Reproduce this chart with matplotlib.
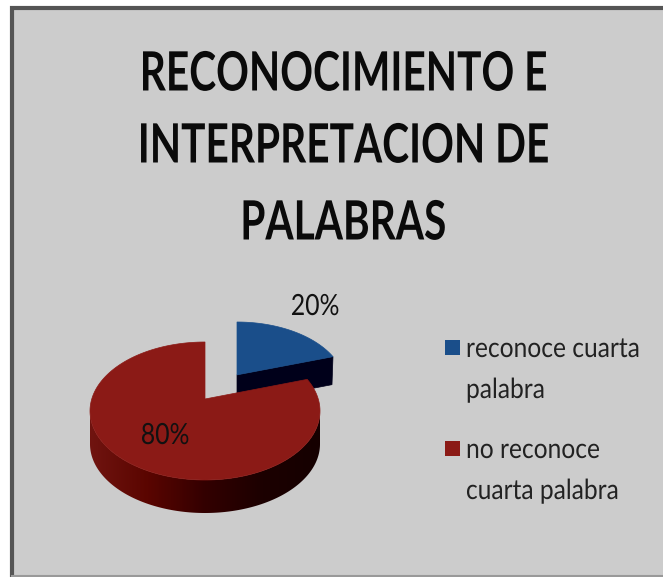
import numpy as np
import matplotlib
matplotlib.use('Agg')
import matplotlib.pyplot as plt
from matplotlib.colors import LinearSegmentedColormap
from matplotlib.patches import Polygon, Rectangle
from matplotlib.patheffects import AbstractPathEffect
from matplotlib.transforms import Affine2D

# datos
title_lines = ['RECONOCIMIENTO E', 'INTERPRETACION DE', 'PALABRAS']
labels = ['reconoce cuarta\npalabra', 'no reconoce\ncuarta palabra']
values = [20, 80]
pct_labels = ['20%', '80%']
colors = ['#1A4E8A', '#8B1A16']

plt.rcParams['font.family'] = ['Lato', 'DejaVu Sans']

W, H = 663, 577
fig = plt.figure(figsize=(W / 100, H / 100), dpi=100, facecolor='white')
ax = fig.add_axes([0, 0, 1, 1])
ax.set_xlim(0, W)
ax.set_ylim(H, 0)
ax.axis('off')


class Condense(AbstractPathEffect):
    # estrecha el texto en horizontal, como la fuente del original
    def __init__(self, k):
        super().__init__()
        self.k = k

    def draw_path(self, renderer, gc, tpath, affine, rgbFace=None):
        c = tpath.get_extents().x0 + tpath.get_extents().width / 2
        tr = Affine2D().translate(-c, 0).scale(self.k, 1).translate(c, 0) + affine
        renderer.draw_path(gc, tpath, tr, rgbFace)


# fondo del grafico y marco
ax.add_patch(Rectangle((12, 8), W - 12, 567, fc='#CCCCCC', ec='none', zorder=0))
ax.plot([12, 12, W], [H, 7.5, 7.5], color='#555555', lw=3, solid_joinstyle='miter', zorder=1)
ax.plot([12, W], [575.5, 575.5], color='#999999', lw=1.5, zorder=1)

S = 0.174  # perspectiva: el centro de la tarta sube respecto al centro de la elipse


def rim(cx, cy, a, b, t):
    x, y = np.cos(t), np.sin(t)
    d = 1 + S * y
    return np.column_stack([cx + a * x * np.sqrt(1 - S ** 2) / d, cy - b * (y + S) / d])


# angulos a partir de los valores
start = np.pi / 2
red_end = start + 2 * np.pi * values[1] / sum(values)
blue_t0 = red_end - 2 * np.pi
blue_t1 = start

# porcion azul (separada)
bx, by, ba, bb, bd = 237, 386, 108, 64, 28
t = np.linspace(blue_t0, blue_t1, 60)
p0 = rim(bx, by, ba, bb, np.array([blue_t0]))[0]
apex_b = np.array([bx, by - bb * S])
ax.add_patch(Polygon(np.vstack([apex_b, p0, p0 + [-1, bd], apex_b + [0, bd]]),
                     fc='#00001A', ec='#00001A', lw=0.5, zorder=2))
ax.add_patch(Polygon(np.vstack([apex_b, rim(bx, by, ba, bb, t)]),
                     fc=colors[0], ec=colors[0], lw=0.5, zorder=3))

# porcion roja: pared con degradado
rx, ry, ra, rb, rd = 205, 411, 115, 69, 33
u = np.linspace(np.pi, 2 * np.pi, 200)
edge = np.column_stack([rx + ra * np.cos(u), ry - rb * np.sin(u)])
wall = Polygon(np.vstack([edge, edge[::-1] + [0, rd]]), fc='none', ec='none',
               transform=ax.transData)
ax.add_patch(wall)
cmap = LinearSegmentedColormap.from_list('pared', ['#701410', '#5A0500', '#330000', '#1C0000', '#150000'])
im = ax.imshow(np.linspace(0, 1, 256).reshape(1, -1), cmap=cmap, aspect='auto',
               extent=[rx - ra, rx + ra, ry + rb + rd, ry - rb], zorder=4)
im.set_clip_path(wall)
ax.set_xlim(0, W)
ax.set_ylim(H, 0)

t = np.linspace(start, red_end, 200)
apex_r = np.array([rx, ry - rb * S])
ax.add_patch(Polygon(np.vstack([apex_r, rim(rx, ry, ra, rb, t)]),
                     fc=colors[1], ec=colors[1], lw=0.5, zorder=5))

# etiquetas de porcentaje
for s, x, y in zip(pct_labels, [315, 165], [307, 436]):
    ax.text(x, y, s, fontsize=21, ha='center', va='center', color='#111111', zorder=6,
            path_effects=[Condense(0.85)])

# titulo
for s, y in zip(title_lines, [75, 147, 224]):
    ax.text(343, y, s, fontsize=39, fontweight='bold', ha='center', va='center', color='#0A0A0A',
            zorder=6, path_effects=[Condense(0.75)])

# leyenda
renderer = fig.canvas.get_renderer()
k_leg = 0.885
for lab, col, y in zip(labels, colors, [349, 450]):
    ax.add_patch(Rectangle((445, y - 9), 15, 15, fc=col, ec='none', zorder=6))
    for i, line in enumerate(lab.split('\n')):
        txt = ax.text(466, y + i * 41, line, fontsize=20, ha='center', va='center', color='#222222',
                      zorder=6, path_effects=[Condense(k_leg)])
        w = txt.get_window_extent(renderer).width
        txt.set_x(466 + k_leg * w / 2)  # alineado a la izquierda una vez estrechado

fig.savefig('out.png', dpi=100, facecolor='white')
